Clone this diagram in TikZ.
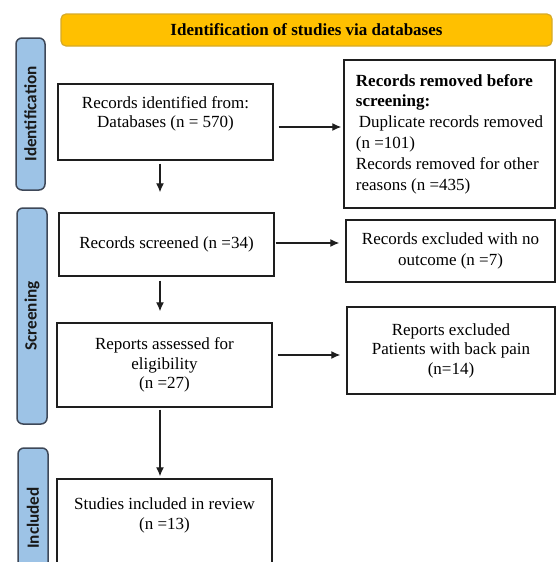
\documentclass[tikz,border=0pt]{standalone}
\usepackage{fontspec}
\setmainfont{Liberation Serif}
\newfontfamily\barfont{Carlito}
\usetikzlibrary{arrows.meta}

\begin{document}
\begin{tikzpicture}[x=1pt,y=-1pt,
  box/.style={draw=custcol_line, line width=1.4pt, fill=white, inner sep=0, align=center, font=\fontsize{17pt}{19.5pt}\selectfont},
  widebox/.style={box, font=\fontsize{17pt}{20.8pt}\selectfont},
  banner/.style={draw=custcol_bannerline, fill=custcol_banner, line width=1.2pt, rounded corners=5pt, inner sep=0, font=\fontsize{17pt}{19pt}\selectfont\bfseries},
  sidebar/.style={draw=custcol_barline, fill=custcol_bar, line width=1.5pt, rounded corners=6pt, rotate=90, inner sep=0, text=custcol_bartext, font=\barfont\bfseries\fontsize{17.2pt}{17.2pt}\selectfont},
  flow/.style={line width=1.3pt, custcol_line, -{Latex[length=9pt,width=8pt]}}]
\definecolor{custcol_line}{RGB}{30, 30, 30}
\definecolor{custcol_banner}{RGB}{255, 192, 0}
\definecolor{custcol_bannerline}{RGB}{214, 170, 40}
\definecolor{custcol_bar}{RGB}{157, 195, 230}
\definecolor{custcol_barline}{RGB}{62, 72, 88}
\definecolor{custcol_bartext}{RGB}{25, 25, 25}
\useasboundingbox (0,0) rectangle (557,562);
\clip (0,0) rectangle (557,562);
\node[banner, minimum width=491pt, minimum height=32pt] (title) at (306.5,30) {Identification of studies via databases};
\node[sidebar, minimum width=152pt, minimum height=29pt] (idbar) at (30.5,114) {Identification};
\node[sidebar, minimum width=216pt, minimum height=30pt] (scrbar) at (32,316) {Screening};
\node[sidebar, minimum width=140pt, minimum height=30pt] (incbar) at (33,518) {Included};
\node[box, minimum width=215pt, minimum height=76pt] (recid) at (165.5,122) {Records identified from:\\Databases (n = 570)\\ \mbox{}};
\node[widebox, align=left, minimum width=211pt, minimum height=148pt] (removed) at (449.5,134) {\textbf{Records removed before}\\\textbf{screening:}\\\hspace*{3pt}Duplicate records removed\\(n =101)\\Records removed for other\\reasons (n =435)};
\node[box, minimum width=215pt, minimum height=63pt] (screened) at (166.5,244.5) {Records screened (n =34)};
\node[widebox, minimum width=209pt, minimum height=62pt] (excluded) at (450.5,251) {Records excluded with no\\outcome (n =7)};
\node[box, minimum width=215pt, minimum height=84pt] (reports) at (164.5,365) {Reports assessed for\\eligibility\\(n =27)};
\node[box, minimum width=208pt, minimum height=87pt] (repexcl) at (451,350.5) {Reports excluded\\Patients with back pain\\(n=14)};
\node[box, minimum width=215pt, minimum height=108pt] (studies) at (164.5,533) {Studies included in review\\(n =13)\\ \mbox{}\\ \mbox{}};
\draw[flow] ([xshift=5pt,yshift=-5pt]recid.east) -- ([xshift=-2pt,yshift=-5pt]recid.east -| removed.west);
\draw[flow] ([xshift=-5.5pt,yshift=-3pt]recid.south) -- ([xshift=-6.5pt,yshift=20pt]screened.north);
\draw[flow] ([xshift=1pt,yshift=1.5pt]screened.east) -- ([xshift=-6pt,yshift=1.5pt]screened.east -| excluded.west);
\draw[flow] ([xshift=-6.5pt,yshift=-4pt]screened.south) -- ([xshift=-4.5pt,yshift=11pt]reports.north);
\draw[flow] ([xshift=5pt,yshift=10pt]reports.east) -- ([xshift=-6pt,yshift=10pt]reports.east -| repexcl.west);
\draw[flow] ([xshift=-4.5pt,yshift=-2pt]reports.south) -- ([xshift=-4.5pt,yshift=2pt]studies.north);
\end{tikzpicture}
\end{document}
